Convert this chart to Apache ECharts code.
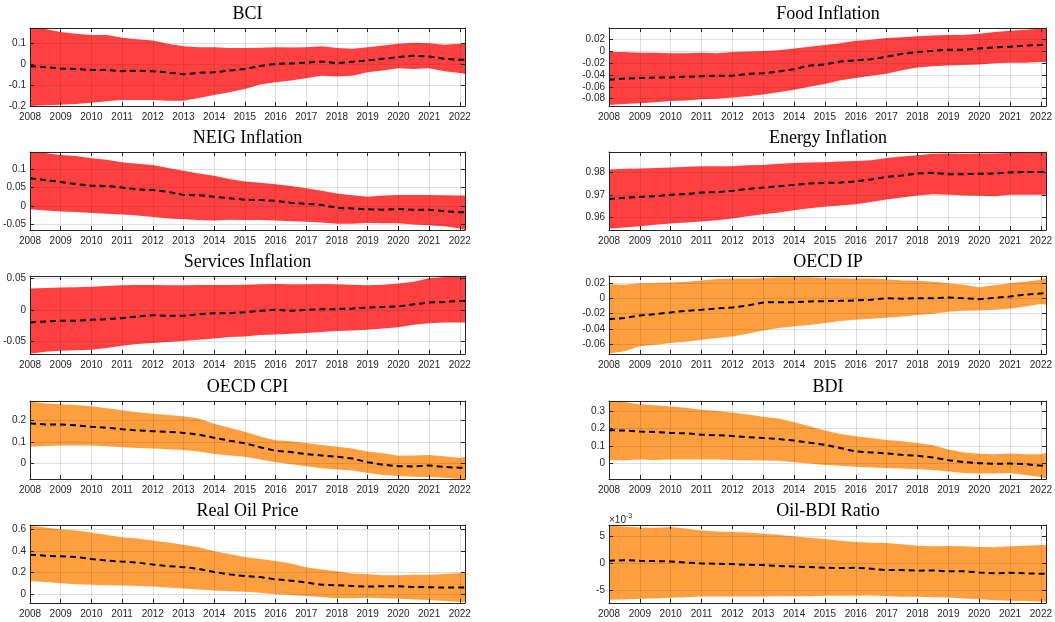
<!DOCTYPE html>
<html>
<head>
<meta charset="utf-8">
<title>Forecast bands</title>
<script src="https://cdn.jsdelivr.net/npm/echarts@6/dist/echarts.min.js"></script>
<style>
  html, body { margin: 0; padding: 0; background: #fff; }
  #chart { width: 1055px; height: 622px; }
</style>
</head>
<body>
<div id="chart"></div>
<script>
// half-year sample points, last one is the end of the sample (early 2022)
const dates = [2008, 2008.5, 2009, 2009.5, 2010, 2010.5, 2011, 2011.5, 2012, 2012.5,
  2013, 2013.5, 2014, 2014.5, 2015, 2015.5, 2016, 2016.5, 2017, 2017.5,
  2018, 2018.5, 2019, 2019.5, 2020, 2020.5, 2021, 2021.5, 2022, 2022.17]

const bciHigh = [0.168,0.165,0.151,0.143,0.137,0.137,0.124,0.117,0.111,0.095,0.083,0.079,0.079,0.075,0.075,0.076,0.079,0.078,0.079,0.083,0.075,0.071,0.079,0.087,0.095,0.1,0.098,0.09,0.095,0.095]
const bciMed = [-0.011,-0.016,-0.022,-0.025,-0.029,-0.029,-0.035,-0.033,-0.035,-0.041,-0.049,-0.043,-0.04,-0.032,-0.024,-0.01,0,0.002,0.006,0.011,0.003,0.01,0.016,0.024,0.032,0.038,0.035,0.024,0.019,0.02]
const bciLow = [-0.2,-0.197,-0.194,-0.19,-0.184,-0.178,-0.171,-0.171,-0.171,-0.175,-0.175,-0.162,-0.148,-0.135,-0.119,-0.098,-0.087,-0.079,-0.068,-0.056,-0.06,-0.056,-0.04,-0.032,-0.021,-0.024,-0.021,-0.035,-0.044,-0.048]

const foodHigh = [-0.001,-0.001,-0.002,-0.002,-0.003,-0.003,-0.002,-0.003,-0.001,0,0.001,0.002,0.005,0.008,0.011,0.014,0.018,0.02,0.023,0.024,0.026,0.027,0.028,0.028,0.03,0.033,0.035,0.037,0.039,0.0395]
const foodMed = [-0.048,-0.046,-0.045,-0.044,-0.044,-0.043,-0.042,-0.041,-0.041,-0.038,-0.037,-0.034,-0.03,-0.024,-0.022,-0.017,-0.015,-0.013,-0.009,-0.004,-0.001,0.001,0.003,0.003,0.005,0.007,0.008,0.01,0.011,0.012]
const foodLow = [-0.091,-0.089,-0.088,-0.086,-0.084,-0.083,-0.081,-0.08,-0.078,-0.076,-0.073,-0.069,-0.065,-0.06,-0.055,-0.049,-0.045,-0.041,-0.038,-0.032,-0.027,-0.025,-0.024,-0.023,-0.022,-0.02,-0.019,-0.019,-0.018,-0.018]

const neigHigh = [0.146,0.143,0.138,0.135,0.129,0.125,0.118,0.114,0.111,0.103,0.095,0.088,0.082,0.073,0.066,0.063,0.059,0.054,0.048,0.041,0.034,0.029,0.025,0.028,0.03,0.03,0.03,0.029,0.028,0.028]
const neigMed = [0.075,0.07,0.065,0.059,0.055,0.054,0.05,0.045,0.043,0.038,0.03,0.029,0.025,0.021,0.017,0.016,0.014,0.009,0.006,0.003,-0.005,-0.007,-0.009,-0.01,-0.008,-0.01,-0.01,-0.014,-0.017,-0.017]
const neigLow = [-0.009,-0.012,-0.015,-0.016,-0.019,-0.021,-0.023,-0.026,-0.03,-0.034,-0.036,-0.038,-0.039,-0.037,-0.038,-0.038,-0.039,-0.041,-0.043,-0.045,-0.048,-0.048,-0.046,-0.047,-0.047,-0.05,-0.052,-0.055,-0.061,-0.065]

const energyHigh = [0.9812,0.9815,0.9816,0.9818,0.9821,0.9824,0.9826,0.9826,0.9826,0.9831,0.9832,0.9837,0.984,0.9843,0.9844,0.9847,0.9849,0.9853,0.9862,0.9869,0.9875,0.9881,0.9882,0.9881,0.9882,0.9882,0.9885,0.9887,0.9887,0.9888]
const energyMed = [0.9682,0.9687,0.9691,0.9694,0.97,0.9704,0.971,0.9712,0.9718,0.9726,0.9732,0.9738,0.9744,0.975,0.9753,0.9754,0.9759,0.9768,0.9779,0.9785,0.9794,0.9797,0.9791,0.9791,0.9793,0.9794,0.9799,0.9801,0.9801,0.9803]
const energyLow = [0.955,0.9556,0.9562,0.9568,0.9574,0.9578,0.9582,0.9588,0.9596,0.9606,0.9615,0.9622,0.9632,0.9641,0.9647,0.9653,0.9659,0.9668,0.9679,0.9688,0.9697,0.9703,0.97,0.9697,0.9696,0.9694,0.97,0.97,0.97,0.97]

const servHigh = [0.034,0.0347,0.0353,0.0358,0.0368,0.0379,0.039,0.0395,0.0395,0.039,0.039,0.0395,0.0395,0.0395,0.04,0.0405,0.041,0.0405,0.0405,0.041,0.0405,0.04,0.039,0.04,0.042,0.0447,0.05,0.052,0.052,0.052]
const servMed = [-0.02,-0.0184,-0.0174,-0.0174,-0.0158,-0.0147,-0.0132,-0.0105,-0.0084,-0.0095,-0.0095,-0.0068,-0.0053,-0.0053,-0.0037,-0.0016,0,-0.0016,0,0.001,0.001,0.0021,0.0037,0.0047,0.0053,0.0089,0.0116,0.0126,0.0142,0.0142]
const servLow = [-0.0695,-0.0663,-0.0647,-0.0642,-0.0632,-0.0605,-0.0568,-0.0542,-0.0526,-0.0511,-0.0495,-0.0474,-0.0453,-0.0432,-0.0421,-0.04,-0.0389,-0.0379,-0.0368,-0.0353,-0.0337,-0.0326,-0.0316,-0.0295,-0.0274,-0.0237,-0.0211,-0.02,-0.02,-0.02]

const ipHigh = [0.0188,0.018,0.02,0.0205,0.021,0.0219,0.0236,0.0258,0.0262,0.0262,0.0271,0.028,0.028,0.028,0.0271,0.0267,0.0262,0.0262,0.0254,0.0236,0.0232,0.0219,0.02,0.018,0.0149,0.0175,0.02,0.0219,0.0245,0.0271]
const ipMed = [-0.0271,-0.0258,-0.0223,-0.0206,-0.0184,-0.0162,-0.0149,-0.0131,-0.0118,-0.0092,-0.0052,-0.0048,-0.0048,-0.0039,-0.0035,-0.0031,-0.0026,-0.0017,0.0004,-0.0004,0.0004,0.0004,0.0013,0.0004,-0.0009,0.0009,0.0026,0.0052,0.0066,0.007]
const ipLow = [-0.0726,-0.0695,-0.063,-0.0608,-0.0586,-0.0569,-0.0542,-0.052,-0.0499,-0.0464,-0.042,-0.0389,-0.0367,-0.035,-0.0324,-0.0297,-0.028,-0.0267,-0.0254,-0.0236,-0.0219,-0.0201,-0.0175,-0.0162,-0.0157,-0.0149,-0.0136,-0.0105,-0.0074,-0.0083]

const cpiHigh = [0.2875,0.278,0.275,0.272,0.266,0.256,0.247,0.2375,0.231,0.225,0.219,0.209,0.184,0.166,0.147,0.125,0.108,0.103,0.095,0.086,0.078,0.069,0.056,0.047,0.036,0.0375,0.039,0.034,0.025,0.03]
const cpiMed = [0.186,0.181,0.181,0.177,0.17,0.166,0.159,0.153,0.15,0.147,0.142,0.134,0.119,0.106,0.094,0.075,0.059,0.053,0.044,0.0375,0.031,0.023,0.006,-0.006,-0.0125,-0.014,-0.009,-0.016,-0.02,-0.019]
const cpiLow = [0.078,0.081,0.084,0.083,0.083,0.08,0.075,0.072,0.069,0.066,0.0625,0.056,0.044,0.0375,0.031,0.019,0.006,-0.003,-0.0125,-0.022,-0.028,-0.033,-0.044,-0.053,-0.058,-0.061,-0.0625,-0.066,-0.072,-0.072]

const bdiHigh = [0.358,0.352,0.339,0.333,0.327,0.319,0.308,0.3,0.292,0.28,0.267,0.257,0.236,0.213,0.188,0.168,0.155,0.145,0.133,0.126,0.116,0.103,0.079,0.062,0.054,0.052,0.056,0.052,0.052,0.06]
const bdiMed = [0.19,0.188,0.182,0.18,0.174,0.172,0.164,0.161,0.157,0.149,0.145,0.139,0.13,0.118,0.106,0.087,0.068,0.062,0.056,0.048,0.043,0.033,0.017,0.006,0,-0.004,-0.002,-0.006,-0.014,-0.012]
const bdiLow = [0.017,0.017,0.021,0.019,0.021,0.021,0.021,0.021,0.019,0.017,0.015,0.014,0.006,-0.002,-0.01,-0.015,-0.021,-0.025,-0.027,-0.031,-0.035,-0.039,-0.048,-0.056,-0.06,-0.06,-0.056,-0.068,-0.079,-0.087]

const oilHigh = [0.633,0.618,0.6,0.588,0.57,0.548,0.527,0.515,0.496,0.478,0.457,0.433,0.396,0.372,0.344,0.326,0.307,0.283,0.25,0.228,0.213,0.192,0.183,0.174,0.174,0.18,0.18,0.186,0.195,0.198]
const oilMed = [0.365,0.356,0.35,0.344,0.326,0.31,0.301,0.292,0.274,0.259,0.25,0.234,0.204,0.183,0.167,0.158,0.137,0.125,0.107,0.088,0.082,0.076,0.07,0.073,0.073,0.067,0.064,0.061,0.061,0.061]
const oilLow = [0.122,0.113,0.1,0.091,0.088,0.082,0.079,0.076,0.07,0.061,0.052,0.043,0.033,0.027,0.021,0.012,0,-0.009,-0.018,-0.027,-0.037,-0.037,-0.033,-0.037,-0.043,-0.049,-0.055,-0.064,-0.073,-0.076]

// oil-bdi ratio, in units of 1e-3
const ratioHigh = [6.95,6.83,6.65,6.59,6.71,6.46,6.1,5.91,5.79,5.73,5.49,5.3,5,4.76,4.51,4.21,3.96,3.84,3.78,3.54,3.29,3.17,3.23,3.17,3.05,2.99,3.17,3.29,3.41,3.35]
const ratioMed = [0.49,0.61,0.49,0.43,0.37,0.18,0,-0.06,-0.12,-0.24,-0.3,-0.49,-0.55,-0.67,-0.79,-0.85,-0.79,-0.98,-1.22,-1.22,-1.34,-1.28,-1.46,-1.46,-1.65,-1.83,-1.71,-1.83,-1.89,-1.89]
const ratioLow = [-6.71,-6.65,-6.52,-6.46,-6.34,-6.22,-6.1,-6.1,-6.1,-6.1,-6.1,-6.04,-6.04,-6.04,-5.98,-5.98,-5.98,-5.91,-6.04,-6.16,-6.16,-6.22,-6.28,-6.46,-6.59,-6.77,-6.89,-6.95,-7.07,-7.07]

const RED = '#ff0000'
const ORANGE = '#ff7f00'

// left column top to bottom, then right column
const panels = [
  {title: 'BCI', low: bciLow, med: bciMed, high: bciHigh, min: -0.2, max: 0.17, step: 0.1, color: RED},
  {title: 'NEIG Inflation', low: neigLow, med: neigMed, high: neigHigh, min: -0.065, max: 0.146, step: 0.05, color: RED},
  {title: 'Services Inflation', low: servLow, med: servMed, high: servHigh, min: -0.07, max: 0.0537, step: 0.05, color: RED},
  {title: 'OECD CPI', low: cpiLow, med: cpiMed, high: cpiHigh, min: -0.072, max: 0.29, step: 0.1, color: ORANGE},
  {title: 'Real Oil Price', low: oilLow, med: oilMed, high: oilHigh, min: -0.082, max: 0.64, step: 0.2, color: ORANGE},
  {title: 'Food Inflation', low: foodLow, med: foodMed, high: foodHigh, min: -0.0925, max: 0.0398, step: 0.02, color: RED},
  {title: 'Energy Inflation', low: energyLow, med: energyMed, high: energyHigh, min: 0.9545, max: 0.9889, step: 0.01, color: RED},
  {title: 'OECD IP', low: ipLow, med: ipMed, high: ipHigh, min: -0.0731, max: 0.0296, step: 0.02, color: ORANGE},
  {title: 'BDI', low: bdiLow, med: bdiMed, high: bdiHigh, min: -0.091, max: 0.358, step: 0.1, color: ORANGE},
  {title: 'Oil-BDI Ratio', low: ratioLow, med: ratioMed, high: ratioHigh, min: -7.3, max: 7.1, step: 5, color: ORANGE, exp: true},
]

const colLeft = [30, 609]
const colWidth = [435, 438]
const rowTop = [28, 152, 276, 401, 525]
const plotHeight = 78

const axisColor = '#262626'
const gridLineColor = 'rgba(38,38,38,0.15)'
const tickFont = 'Liberation Sans, Arial, sans-serif'

// only label the round tick values, not the axis ends
function yLabel(step) {
  return function (v) {
    const k = Math.round(v / step)
    if (Math.abs(v / step - k) > 1e-6) return ''
    return String(+(k * step).toFixed(6))
  }
}

const option = {
  animation: false,
  title: [],
  grid: [],
  xAxis: [],
  yAxis: [],
  series: []
}

panels.forEach((p, i) => {
  const col = Math.floor(i / 5)
  const row = i % 5
  const left = colLeft[col]
  const width = colWidth[col]
  const top = rowTop[row]

  option.grid.push({left: left, top: top, width: width, height: plotHeight, containLabel: false})

  option.title.push({
    text: p.title,
    left: left + width / 2,
    top: top - 14,
    textAlign: 'center',
    textVerticalAlign: 'middle',
    padding: 0,
    textStyle: {fontFamily: 'Liberation Serif, serif', fontSize: 18, fontWeight: 'normal', color: '#000'}
  })

  const xBase = {
    type: 'value',
    gridIndex: i,
    min: 2008,
    max: 2022.17,
    interval: 1,
    z: 5,
    axisLine: {show: true, onZero: false, lineStyle: {color: axisColor, width: 1}},
    axisTick: {show: true, inside: true, length: 4, lineStyle: {color: axisColor}},
  }
  option.xAxis.push(Object.assign({}, xBase, {
    position: 'bottom',
    axisLabel: {
      fontSize: 10, color: axisColor, fontFamily: tickFont, margin: 6,
      formatter: v => Number.isInteger(v) ? String(v) : ''
    },
    splitLine: {show: true, lineStyle: {color: gridLineColor, width: 1}}
  }))
  option.xAxis.push(Object.assign({}, xBase, {
    position: 'top',
    axisLabel: {show: false},
    splitLine: {show: false}
  }))

  const yBase = {
    type: 'value',
    gridIndex: i,
    min: p.min,
    max: p.max,
    minInterval: p.step,
    maxInterval: p.step,
    splitNumber: 5,
    z: 5,
    axisLine: {show: true, onZero: false, lineStyle: {color: axisColor, width: 1}},
    axisTick: {show: true, inside: true, length: 4, lineStyle: {color: axisColor}},
  }
  const yLeft = Object.assign({}, yBase, {
    position: 'left',
    axisLabel: {fontSize: 10, color: axisColor, fontFamily: tickFont, margin: 4, formatter: yLabel(p.step)},
    splitLine: {show: true, lineStyle: {color: gridLineColor, width: 1}}
  })
  if (p.exp) {
    yLeft.name = '{a|×10}{b|-3}'
    yLeft.nameLocation = 'end'
    yLeft.nameGap = 0
    yLeft.nameTextStyle = {
      align: 'left',
      verticalAlign: 'bottom',
      rich: {
        a: {fontSize: 10, color: axisColor, fontFamily: tickFont, verticalAlign: 'bottom'},
        b: {fontSize: 7, color: axisColor, fontFamily: tickFont, verticalAlign: 'bottom', padding: [0, 0, 5, 0]}
      }
    }
  }
  option.yAxis.push(yLeft)
  option.yAxis.push(Object.assign({}, yBase, {
    position: 'right',
    axisLabel: {show: false},
    splitLine: {show: false}
  }))

  const xi = 2 * i
  const yi = 2 * i
  // shaded band: one polygon, upper edge forward then lower edge back
  option.series.push({
    type: 'custom', xAxisIndex: xi, yAxisIndex: yi,
    silent: true,
    clip: true,
    encode: {x: 0, y: [1, 2]},
    data: dates.map((d, j) => [d, p.low[j], p.high[j]]),
    renderItem: function (params, api) {
      if (params.dataIndex !== 0) return
      const pts = []
      for (let j = 0; j < dates.length; j++) pts.push(api.coord([dates[j], p.high[j]]))
      for (let j = dates.length - 1; j >= 0; j--) pts.push(api.coord([dates[j], p.low[j]]))
      return {
        type: 'polygon',
        shape: {points: pts},
        style: {fill: p.color, opacity: 0.75}
      }
    }
  })
  option.series.push({
    type: 'line', xAxisIndex: xi, yAxisIndex: yi,
    symbol: 'none', silent: true,
    lineStyle: {color: '#000', width: 2, type: [6, 4]},
    data: dates.map((d, j) => [d, p.med[j]])
  })
})

const chart = echarts.init(document.getElementById('chart'))
chart.setOption(option)
</script>
</body>
</html>
